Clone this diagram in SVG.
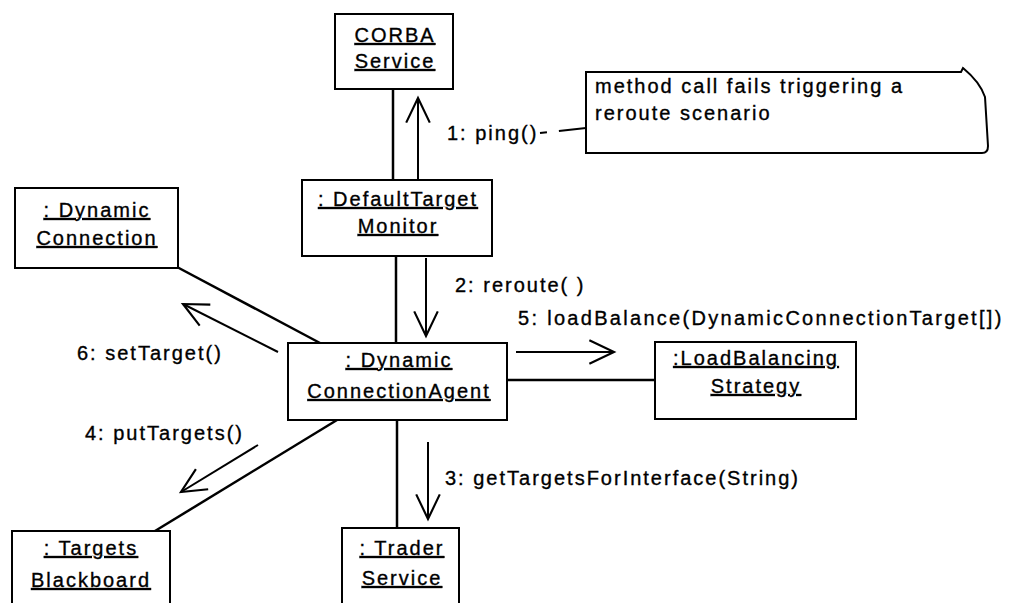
<svg xmlns="http://www.w3.org/2000/svg" width="1010" height="603" viewBox="0 0 1010 603">
  <style>
    .box { fill: #ffffff; stroke: #000000; stroke-width: 2; }
    .lbl { font-family: "Liberation Sans", Arial, sans-serif; font-size: 20px; letter-spacing: 2px; fill: #000000; stroke: #000000; stroke-width: 0.35; }
    .name { text-anchor: middle; text-decoration: underline; }
    .link { stroke: #000000; stroke-width: 2.5; fill: none; }
    .msg { stroke: #000000; stroke-width: 2; fill: none; marker-end: url(#openArrow); }
    .anchor { stroke: #000000; stroke-width: 2; fill: none; stroke-dasharray: 7 12 30 0; }
  </style>
  <defs>
    <marker id="openArrow" markerUnits="userSpaceOnUse" markerWidth="30" markerHeight="30" refX="0" refY="0" viewBox="-26 -13 28 26" orient="auto" overflow="visible">
      <path d="M -23 -11 L 0 0 L -23 11" fill="none" stroke="#000000" stroke-width="2"/>
    </marker>
  </defs>

  <rect width="1010" height="603" fill="#ffffff"/>

  <!-- associations and messages -->
  <g id="connectors">
    <line class="link" x1="393" y1="89" x2="393" y2="180"/>
    <line class="msg" x1="418" y1="180" x2="418" y2="98"/>
    <line class="anchor" x1="540" y1="133" x2="586" y2="128"/>

    <line class="link" x1="396" y1="256" x2="396" y2="343"/>
    <line class="msg" x1="426" y1="258" x2="426" y2="336"/>

    <line class="link" x1="177" y1="267" x2="320" y2="343"/>
    <line class="msg" x1="278" y1="352" x2="183" y2="304"/>

    <line class="link" x1="507" y1="380" x2="655" y2="380"/>
    <line class="msg" x1="516" y1="352" x2="614" y2="352"/>

    <line class="link" x1="397" y1="420" x2="397" y2="528"/>
    <line class="msg" x1="428" y1="442" x2="428" y2="519"/>

    <line class="link" x1="337" y1="420" x2="155" y2="531"/>
    <line class="msg" x1="258" y1="445" x2="181" y2="492"/>

    <text class="lbl" x="447" y="140">1: ping()</text>
    <text class="lbl" x="455" y="292">2: reroute( )</text>
    <text class="lbl" x="445" y="485">3: getTargetsForInterface(String)</text>
    <text class="lbl" x="85" y="440">4: putTargets()</text>
    <text class="lbl" x="518" y="325" style="letter-spacing: 2.3px">5: loadBalance(DynamicConnectionTarget[])</text>
    <text class="lbl" x="77" y="360">6: setTarget()</text>
  </g>

  <g id="corba-service">
    <rect class="box" x="335" y="14" width="118" height="75"/>
    <text class="lbl name" x="395" y="42">CORBA</text>
    <text class="lbl name" x="395" y="68">Service</text>
  </g>

  <g id="default-target-monitor">
    <rect class="box" x="302" y="180" width="190" height="76"/>
    <text class="lbl name" x="398" y="206">: DefaultTarget</text>
    <text class="lbl name" x="398" y="233">Monitor</text>
  </g>

  <g id="dynamic-connection">
    <rect class="box" x="15" y="188" width="163" height="80"/>
    <text class="lbl name" x="97" y="217">: Dynamic</text>
    <text class="lbl name" x="97" y="245">Connection</text>
  </g>

  <g id="dynamic-connection-agent">
    <rect class="box" x="288" y="343" width="219" height="77"/>
    <text class="lbl name" x="399" y="367">: Dynamic</text>
    <text class="lbl name" x="399" y="398">ConnectionAgent</text>
  </g>

  <g id="load-balancing-strategy">
    <rect class="box" x="655" y="342" width="201" height="77"/>
    <text class="lbl name" x="756" y="365">:LoadBalancing</text>
    <text class="lbl name" x="756" y="393">Strategy</text>
  </g>

  <g id="targets-blackboard">
    <rect class="box" x="12" y="531" width="158" height="80"/>
    <text class="lbl name" x="91" y="555">: Targets</text>
    <text class="lbl name" x="91" y="587">Blackboard</text>
  </g>

  <g id="trader-service">
    <rect class="box" x="342" y="528" width="117" height="80"/>
    <text class="lbl name" x="402" y="555">: Trader</text>
    <text class="lbl name" x="402" y="585">Service</text>
  </g>

  <g id="note">
    <path class="box" d="M 586 72 L 961 72 L 963 68 Q 980 82 985 97 L 988 146 Q 988 153 982 153 L 586 153 Z"/>
    <text class="lbl" x="595" y="93">method call fails triggering a</text>
    <text class="lbl" x="595" y="120">reroute scenario</text>
  </g>
</svg>
